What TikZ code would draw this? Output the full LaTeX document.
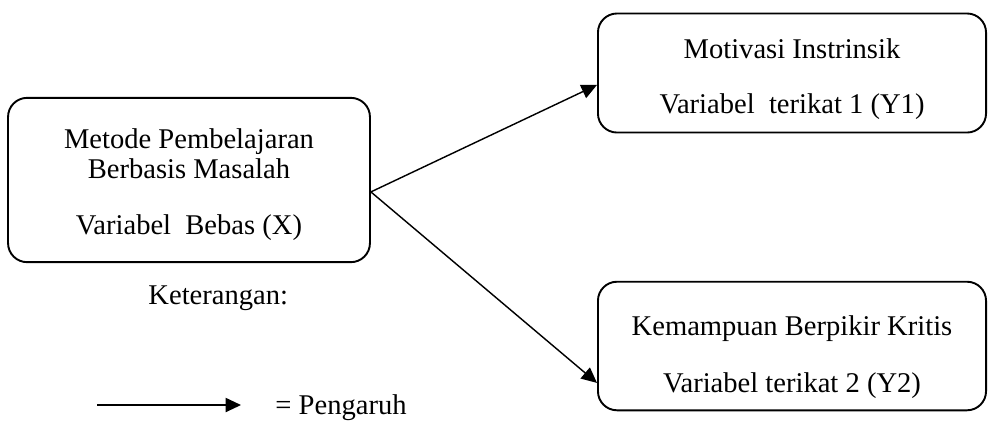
\documentclass[tikz,border=0pt]{standalone}
\usepackage{fontspec}
\setmainfont{Liberation Serif}
\usepackage{tikz}
\usetikzlibrary{arrows.meta, positioning}

\begin{document}
\begin{tikzpicture}[
  x=0.42pt, y=-0.42pt,
  varbox/.style={
    rectangle, rounded corners=8pt,
    draw=black, line width=0.8pt,
    align=center, inner sep=0pt,
    font=\fontsize{12}{12.6}\selectfont
  },
  arr/.style={-{Triangle[length=6.5pt, width=6pt]}, line width=0.6pt, color=black},
  lbl/.style={font=\fontsize{12}{12.6}\selectfont, inner sep=0pt},
]
\useasboundingbox (0,0) rectangle (988,423);

% Variable boxes
\node[varbox, minimum width=152pt, minimum height=69pt] (bebas) at (189,180)
  {\rule{0pt}{12.5pt}Metode Pembelajaran\\Berbasis Masalah\\[11pt]Variabel\ \ Bebas (X)};
\node[varbox, minimum width=163pt, minimum height=50pt] (terikat1) at (792,73)
  {\rule{0pt}{13.3pt}Motivasi Instrinsik\\[10.5pt]Variabel\ \ terikat 1 (Y1)};
\node[varbox, minimum width=163pt, minimum height=54pt] (terikat2) at (792,346)
  {\rule{0pt}{17.5pt}Kemampuan Berpikir Kritis\\[11.4pt]Variabel terikat 2 (Y2)};

% Arrows
\draw[arr] ([yshift=-5pt]bebas.east) -- ([yshift=-5pt]terikat1.west);
\draw[arr] ([yshift=-5pt]bebas.east) -- ([yshift=-15.5pt]terikat2.west);

% Legend
\node[lbl, anchor=west] (ket) at (148,298) {Keterangan:};
\coordinate (lgstart) at (97,405);
\coordinate (lgend) at (241,405);
\draw[arr] (lgstart) -- (lgend);
\node[lbl, anchor=west] (pengaruh) at (275,408) {= Pengaruh};

\end{tikzpicture}
\end{document}
